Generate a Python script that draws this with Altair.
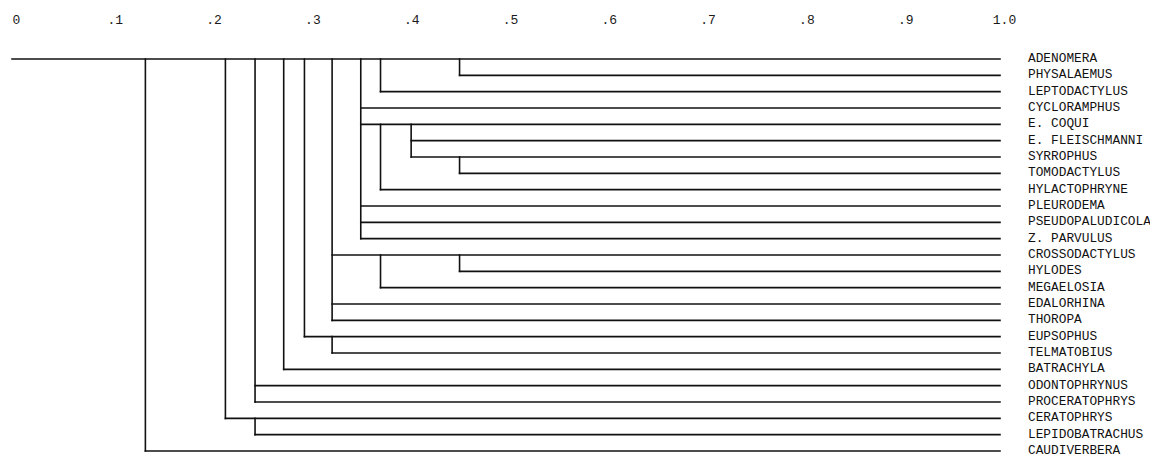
import altair as alt
import pandas as pd

# Leaves, top to bottom
leaves = ["ADENOMERA", "PHYSALAEMUS", "LEPTODACTYLUS", "CYCLORAMPHUS", "E. COQUI",
          "E. FLEISCHMANNI", "SYRROPHUS", "TOMODACTYLUS", "HYLACTOPHRYNE", "PLEURODEMA",
          "PSEUDOPALUDICOLA", "Z. PARVULUS", "CROSSODACTYLUS", "HYLODES", "MEGAELOSIA",
          "EDALORHINA", "THOROPA", "EUPSOPHUS", "TELMATOBIUS", "BATRACHYLA",
          "ODONTOPHRYNUS", "PROCERATOPHRYS", "CERATOPHRYS", "LEPIDOBATRACHUS", "CAUDIVERBERA"]

# Similarity level at which each leaf's horizontal branch starts
leaf_join = [0.0, 0.453, 0.373, 0.353, 0.353,
             0.404, 0.404, 0.453, 0.373, 0.353,
             0.353, 0.353, 0.324, 0.453, 0.373,
             0.324, 0.324, 0.296, 0.324, 0.275,
             0.246, 0.246, 0.216, 0.246, 0.135]

# Vertical connectors: similarity level, top leaf index, bottom leaf index
node_level = [0.135, 0.216, 0.246, 0.246, 0.275, 0.296, 0.324, 0.324,
              0.353, 0.373, 0.453, 0.373, 0.404, 0.453, 0.373, 0.453]
node_top = [0, 0, 0, 22, 0, 0, 0, 17, 0, 0, 0, 4, 4, 6, 12, 12]
node_bottom = [24, 22, 21, 23, 19, 17, 16, 18, 11, 2, 1, 8, 6, 7, 14, 13]

scale_ticks = [0.0, 0.1, 0.2, 0.3, 0.4, 0.5, 0.6, 0.7, 0.8, 0.9, 1.0]

horiz = pd.DataFrame({"leaf": leaves, "row": list(range(len(leaves))),
                      "x": leaf_join, "x2": [1.0] * len(leaves)})
vert = pd.DataFrame({"x": node_level, "y": node_top, "y2": node_bottom})

xscale = alt.Scale(domain=[0, 1], nice=False, zero=False)
yscale = alt.Scale(domain=[0, len(leaves) - 1], reverse=True, nice=False, zero=False)

xaxis = alt.Axis(orient="top", values=scale_ticks, title=None, domain=False, ticks=False,
                 grid=False, labelPadding=33, labelOffset=4, labelFont="Liberation Mono",
                 labelFontSize=13, labelColor="#1a1a1a", labelFlush=False,
                 labelExpr="datum.value == 0 ? '0' : (datum.value == 1 ? '1.0' : replace(format(datum.value, '.1f'), '0.', '.'))")

h_layer = alt.Chart(horiz).mark_rule(color="#111111", strokeWidth=1.6, strokeCap="square").encode(
    x=alt.X("x:Q", scale=xscale, axis=xaxis),
    x2="x2:Q",
    y=alt.Y("row:Q", scale=yscale, axis=None),
)

v_layer = alt.Chart(vert).mark_rule(color="#111111", strokeWidth=1.6, strokeCap="square").encode(
    x=alt.X("x:Q", scale=xscale, axis=xaxis),
    y=alt.Y("y:Q", scale=yscale, axis=None),
    y2="y2:Q",
)

t_layer = alt.Chart(horiz).mark_text(align="left", baseline="middle", dx=28, dy=-1,
                                     font="Liberation Mono", fontSize=12.8,
                                     color="#111111").encode(
    x=alt.X("x2:Q", scale=xscale, axis=xaxis),
    y=alt.Y("row:Q", scale=yscale, axis=None),
    text="leaf:N",
)

chart = alt.layer(h_layer, v_layer, t_layer).properties(
    width=988, height=392,
    padding={"left": 4, "top": 51, "right": 150, "bottom": 8},
    autosize="none",
    background="white",
).configure_view(strokeWidth=0, stroke="transparent")

chart.save("out.html", embed_options={"renderer": "svg", "actions": False})
